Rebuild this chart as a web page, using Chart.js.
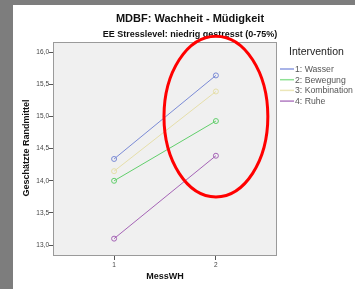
<!DOCTYPE html>
<html>
<head>
<meta charset="utf-8">
<script src="https://cdn.jsdelivr.net/npm/chart.js@4/dist/chart.umd.min.js"></script>
<style>
  html, body { margin: 0; padding: 0; background: #7d7d7d; }
  #wrap { width: 355px; height: 289px; position: relative; }
</style>
</head>
<body>
<div id="wrap"><canvas id="c" width="355" height="289"></canvas></div>
<script>
// MDBF: Wachheit - Müdigkeit, geschätzte Randmittel je Messzeitpunkt
const messWH = [1, 2];
const wasser = [14.34, 15.64];
const bewegung = [14.00, 14.93];
const kombination = [14.15, 15.39];
const ruhe = [13.10, 14.39];
const yTicks = [13.0, 13.5, 14.0, 14.5, 15.0, 15.5, 16.0];

const seriesNames = ['1: Wasser', '2: Bewegung', '3: Kombination', '4: Ruhe'];
const seriesColors = ['#7b8bd6', '#62cf6c', '#e6dfaa', '#a564b6'];
const legendColors = ['#8c9be0', '#8fe195', '#ece6b8', '#b27cc2'];

// red marker ellipse (in data units)
const ellipse = { x: 2, y: 15.0, rx: 0.51, ry: 1.25 };

const toPts = arr => arr.map((v, i) => ({ x: messWH[i], y: v }));

const datasets = [wasser, bewegung, kombination, ruhe].map((vals, i) => ({
  label: seriesNames[i],
  data: toPts(vals),
  borderColor: seriesColors[i],
  backgroundColor: 'rgba(0,0,0,0)',
  pointBorderColor: seriesColors[i],
  pointBackgroundColor: 'rgba(0,0,0,0)',
  pointRadius: 2.5,
  pointBorderWidth: 1,
  borderWidth: 1,
  tension: 0
}));

const sans = '"Liberation Sans", Arial, sans-serif';

const decor = {
  id: 'decor',
  beforeDraw(chart) {
    const { ctx, chartArea: a } = chart;
    ctx.save();
    ctx.fillStyle = '#7d7d7d';
    ctx.fillRect(0, 0, chart.width, chart.height);
    ctx.fillStyle = '#ffffff';
    ctx.fillRect(13, 5, chart.width - 13, chart.height - 5);
    ctx.fillStyle = '#f0f0f0';
    ctx.fillRect(a.left, a.top, a.right - a.left, a.bottom - a.top);
    ctx.strokeStyle = '#9a9a9a';
    ctx.lineWidth = 1;
    ctx.strokeRect(a.left + 0.5, a.top + 0.5, a.right - a.left - 1, a.bottom - a.top - 1);

    // titles
    ctx.fillStyle = '#111';
    ctx.textAlign = 'center';
    ctx.textBaseline = 'middle';
    ctx.font = 'bold 11px ' + sans;
    ctx.fillText('MDBF: Wachheit - Müdigkeit', 190, 19);
    ctx.font = 'bold 9px ' + sans;
    ctx.fillText('EE Stresslevel: niedrig gestresst (0-75%)', 190, 35);

    // axis titles
    ctx.fillText('MessWH', (a.left + a.right) / 2, 277);
    ctx.save();
    ctx.translate(27, 148);
    ctx.rotate(-Math.PI / 2);
    ctx.fillText('Geschätzte Randmittel', 0, 0);
    ctx.restore();

    // legend
    ctx.textAlign = 'left';
    ctx.font = '10.5px ' + sans;
    ctx.fillStyle = '#222';
    ctx.fillText('Intervention', 289, 52);
    ctx.font = '8.7px ' + sans;
    chart.data.datasets.forEach((ds, i) => {
      const y = 69 + i * 10.7;
      ctx.strokeStyle = legendColors[i];
      ctx.lineWidth = 1.5;
      ctx.beginPath();
      ctx.moveTo(280, y);
      ctx.lineTo(294, y);
      ctx.stroke();
      ctx.fillStyle = '#555';
      ctx.fillText(ds.label, 295, y + 0.5);
    });
    ctx.restore();
  },
  afterDraw(chart) {
    const { ctx, scales: { x, y } } = chart;
    const cx = x.getPixelForValue(ellipse.x);
    const cy = y.getPixelForValue(ellipse.y);
    const rx = Math.abs(x.getPixelForValue(ellipse.x + ellipse.rx) - cx);
    const ry = Math.abs(y.getPixelForValue(ellipse.y + ellipse.ry) - cy);
    ctx.save();
    ctx.strokeStyle = '#ff0000';
    ctx.lineWidth = 3;
    ctx.beginPath();
    ctx.ellipse(cx, cy, rx, ry, 0, 0, Math.PI * 2);
    ctx.stroke();
    ctx.restore();
  }
};

new Chart(document.getElementById('c'), {
  type: 'line',
  data: { datasets },
  options: {
    responsive: false,
    animation: false,
    layout: { padding: { left: 13, top: 42, right: 78, bottom: 0 } },
    plugins: { legend: { display: false }, title: { display: false }, tooltip: { enabled: false } },
    scales: {
      x: {
        type: 'linear',
        min: 0.4, max: 2.6,
        afterFit: s => { s.height = 33; },
        afterBuildTicks: s => { s.ticks = messWH.map(v => ({ value: v })); },
        grid: { drawOnChartArea: false, tickLength: 4, color: '#555' },
        border: { display: false },
        ticks: { font: { size: 6.5, family: sans }, color: '#444', padding: 1, callback: v => String(v) }
      },
      y: {
        min: 12.83, max: 16.16,
        afterFit: s => { s.width = 40; },
        afterBuildTicks: s => { s.ticks = yTicks.map(v => ({ value: v })); },
        grid: { drawOnChartArea: false, tickLength: 4, color: '#555' },
        border: { display: false },
        ticks: { font: { size: 6.5, family: sans }, color: '#444', padding: 0,
          callback: v => v.toFixed(1).replace('.', ',') }
      }
    }
  },
  plugins: [decor]
});
</script>
</body>
</html>
